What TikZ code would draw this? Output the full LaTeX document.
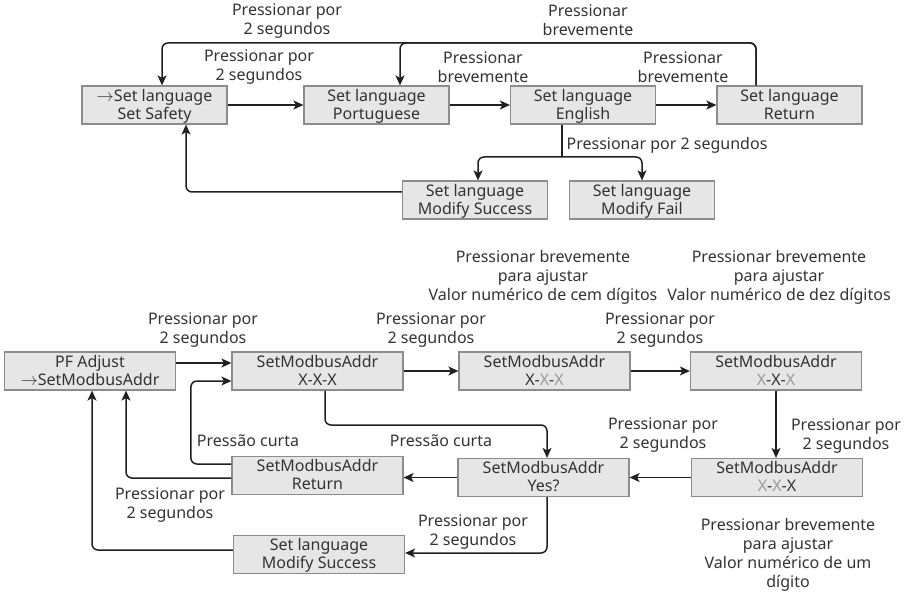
\documentclass[tikz,border=0pt]{standalone}
\usepackage{fontspec}
\setmainfont{Noto Sans}
\usepackage{tikz}
\usetikzlibrary{calc}
\usetikzlibrary{arrows.meta}
\usetikzlibrary{positioning}

\definecolor{boxfill}{HTML}{E6E6E6}
\definecolor{boxline}{HTML}{8C8C8C}
\definecolor{flowline}{HTML}{231F20}
\definecolor{txt}{HTML}{333333}
\definecolor{xgray}{HTML}{9A9A9A}

\newcommand{\lblfont}{\fontsize{16}{19}\selectfont}
\newcommand{\boxfont}{\fontsize{16}{18}\selectfont}
\newcommand{\gx}{\textcolor{xgray}{X}}

\tikzset{
  box/.style={draw=boxline,fill=boxfill,line width=1.2pt,minimum width=145pt,
    minimum height=38pt,inner sep=0pt,align=center,font=\boxfont,text=txt,
    text height=33.3pt,text depth=4.7pt},
  wbox/.style={box,minimum width=171pt},
  lbl/.style={align=center,font=\lblfont,text=txt,inner sep=0pt},
  flow/.style={draw=flowline,line width=1.5pt,rounded corners=6pt,
    -{Stealth[length=10pt,width=9pt,inset=2.5pt]}},
  seg/.style={draw=flowline,line width=1.5pt}
}

\begin{document}
\begin{tikzpicture}[x=1pt,y=-1pt]
        \useasboundingbox (0,0) rectangle (907,593);

        % language menu
        \node[box] (safety) at (154.5,105) {$\rightarrow$Set language\\Set Safety};
        \node[box] (port) at (376.5,105) {Set language\\Portuguese};
        \node[box] (eng) at (583,105) {Set language\\English};
        \node[box] (ret) at (789.5,105) {Set language\\Return};
        \node[box] (succ) at (475,200) {Set language\\Modify Success};
        \node[box] (fail) at (642,200) {Set language\\Modify Fail};

        \coordinate (topline) at (0,43);
        \coordinate (split) at (562,157);

        \draw[flow] (safety) -- (port);
        \draw[flow] (port) -- (eng);
        \draw[flow] (eng) -- (ret);
        \draw[flow] ([xshift=-33.5pt]ret.north) |- ([xshift=23.5pt]port.north |- topline) -- ([xshift=23.5pt]port.north);
        \draw[flow] ([xshift=-33.5pt]ret.north) |- ([xshift=7.5pt]safety.north |- topline) -- ([xshift=7.5pt]safety.north);
        \draw[seg] ([xshift=-21pt]eng.south) -- (split);
        \draw[flow] (split) -| ([xshift=3pt]succ.north);
        \draw[flow] (split) -| (fail.north);
        \draw[flow] ([yshift=8pt]succ.west) -| ([xshift=31.5pt]safety.south);

        \node[lbl] at (287,21) {Pressionar por\\2 segundos};
        \node[lbl] at (588,20.5) {Pressionar\\brevemente};
        \node[lbl] at (259,67.5) {Pressionar por\\2 segundos};
        \node[lbl] at (483,67.5) {Pressionar\\brevemente};
        \node[lbl] at (683,67.5) {Pressionar\\brevemente};
        \node[lbl] at (667,145) {Pressionar por 2 segundos};

        % modbus address menu
        \node[wbox] (pf) at (90,371) {PF Adjust\\$\rightarrow$SetModbusAddr};
        \node[wbox] (addr) at (317.5,371) {SetModbusAddr\\X-X-X};
        \node[wbox] (hund) at (544.5,371) {SetModbusAddr\\X-\gx-\gx};
        \node[wbox] (tens) at (776,371) {SetModbusAddr\\\gx-X-\gx};
        \node[wbox] (ones) at (777,477.5) {SetModbusAddr\\\gx-\gx-X};
        \node[wbox] (yes) at (543.5,477.5) {SetModbusAddr\\Yes?};
        \node[wbox] (mret) at (317.5,475.5) {SetModbusAddr\\Return};
        \node[wbox] (msucc) at (319,554.5) {Set language\\Modify Success};

        \coordinate (midline) at (0,425);

        \draw[flow] ([yshift=8pt]pf.east) -- ([yshift=8pt]addr.west);
        \draw[flow] (addr) -- (hund);
        \draw[flow] (hund) -- (tens);
        \draw[flow] (tens.south) -- (tens.south |- ones.north);
        \draw[flow] (ones) -- (yes);
        \draw[flow] (yes.west) -- (mret.east |- yes.west);
        \draw[flow] ([xshift=7.5pt]addr.south) |- ([xshift=3.5pt]yes.north |- midline) -- ([xshift=3.5pt]yes.north);
        \draw[flow] ([yshift=11.5pt]mret.west) -| ([xshift=-40.5pt,yshift=-10pt]addr.west) -- ([yshift=-10pt]addr.west);
        \draw[flow] ([yshift=-2.5pt]mret.west) -| ([xshift=36pt]pf.south);
        \draw[flow] ([yshift=4.5pt]msucc.west) -| ([xshift=2pt]pf.south);
        \draw[flow] ([xshift=3.5pt]yes.south) |- ([yshift=1.5pt]msucc.east);

        \node[lbl] at (543,277) {Pressionar brevemente\\para ajustar\\Valor numérico de cem dígitos};
        \node[lbl] at (779,277) {Pressionar brevemente\\para ajustar\\Valor numérico de dez dígitos};
        \node[lbl] at (203,330.5) {Pressionar por\\2 segundos};
        \node[lbl] at (431,330.5) {Pressionar por\\2 segundos};
        \node[lbl] at (660,330.5) {Pressionar por\\2 segundos};
        \node[lbl] at (846,436) {Pressionar por\\2 segundos};
        \node[lbl] at (663,435) {Pressionar por\\2 segundos};
        \node[lbl] at (248,441) {Pressão curta};
        \node[lbl] at (441,441) {Pressão curta};
        \node[lbl] at (170,505) {Pressionar por\\2 segundos};
        \node[lbl] at (473,532) {Pressionar por\\2 segundos};
        \node[lbl] at (788,555) {Pressionar brevemente\\para ajustar\\Valor numérico de um\\dígito};
\end{tikzpicture}
\end{document}
